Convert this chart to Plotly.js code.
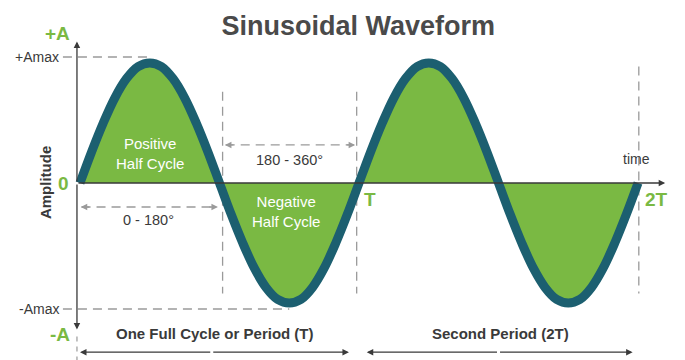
<!DOCTYPE html>
<html>
<head>
<meta charset="utf-8">
<script src="https://cdn.plot.ly/plotly-3.0.1.min.js"></script>
<style>html,body{margin:0;padding:0;background:#fff;}#chart{width:685px;height:360px;}</style>
</head>
<body>
<div id="chart"></div>
<script>
// Phase angle (degrees) and normalised amplitude
const degrees = [0,15,30,45,60,75,90,105,120,135,150,165,180,195,210,225,240,255,270,285,300,315,330,345,360,
                 375,390,405,420,435,450,465,480,495,510,525,540,555,570,585,600,615,630,645,660,675,690,705,720];
const amplitude = [0,0.26,0.5,0.71,0.87,0.97,1,0.97,0.87,0.71,0.5,0.26,0,-0.26,-0.5,-0.71,-0.87,-0.97,-1,-0.97,-0.87,-0.71,-0.5,-0.26,0,
                   0.26,0.5,0.71,0.87,0.97,1,0.97,0.87,0.71,0.5,0.26,0,-0.26,-0.5,-0.71,-0.87,-0.97,-1,-0.97,-0.87,-0.71,-0.5,-0.26,0];
const halfCycleLabels = ["Positive<br>Half Cycle", "Negative<br>Half Cycle"];
const rangeLabels = ["0 - 180°", "180 - 360°"];
const periodLabels = ["One Full Cycle or Period (T)", "Second Period (2T)"];
const periodMarks = ["T", "2T"];
const ampLabels = ["+Amax", "-Amax"];
const axisEnds = ["+A", "-A"];

const GREEN = "#7ab943", TEAL = "#1c5f70", DARK = "#3a3a3a", GREY = "#9a9a9a";
const FONT = "Liberation Sans, Arial, sans-serif";

const trace = {
  x: degrees, y: amplitude, type: "scatter", mode: "lines",
  line: {color: TEAL, width: 9, shape: "spline", smoothing: 1},
  fill: "tozeroy", fillcolor: GREEN, hoverinfo: "skip"
};

const dash = "9px,6px";
const shapes = [
  {type:"line", x0:-22, x1:90, y0:1.05, y1:1.05, line:{color:GREY, width:1.3, dash:dash}, layer:"below"},
  {type:"line", x0:-22, x1:270, y0:-1.05, y1:-1.05, line:{color:GREY, width:1.3, dash:dash}, layer:"below"},
  {type:"line", x0:184, x1:184, y0:0.76, y1:-0.92, line:{color:GREY, width:1.3, dash:dash}, layer:"below"},
  {type:"line", x0:357, x1:357, y0:0.76, y1:-0.92, line:{color:GREY, width:1.3, dash:dash}, layer:"below"},
  {type:"line", x0:721, x1:721, y0:0.97, y1:-0.92, line:{color:GREY, width:1.3, dash:dash}, layer:"below"},
  {type:"line", x0:2, x1:176, y0:-0.2, y1:-0.2, line:{color:GREY, width:1.3, dash:dash}, layer:"below"},
  {type:"line", x0:188, x1:353, y0:0.317, y1:0.317, line:{color:GREY, width:1.3, dash:dash}, layer:"below"},
  {type:"line", x0:-3.9, x1:-3.9, y0:-1.28, y1:-1.5, line:{color:GREY, width:1.2, dash:"5px,5px"}, layer:"below"}
];

function arrow(x, y, ax, ay, color, ref) {
  const a = {x:x, y:y, ax:ax, ay:ay, text:"", showarrow:true, arrowhead:2, arrowsize:1,
             arrowwidth:1.3, arrowcolor:color, standoff:0, startstandoff:0};
  if (ref) { a.axref = "x"; a.ayref = "y"; }
  return a;
}
function label(x, y, text, size, color, bold, extra) {
  return Object.assign({x:x, y:y, text: bold ? "<b>"+text+"</b>" : text, showarrow:false,
    font:{family:FONT, size:size, color:color}}, extra || {});
}

const annotations = [
  arrow(-3.9, 1.18, -3.9, 0, DARK, true),
  arrow(-3.9, -1.22, -3.9, 0, DARK, true),
  arrow(755, 0, -3.9, 0, DARK, true),
  arrow(1, -0.2, 10, 0, GREY), arrow(178, -0.2, -10, 0, GREY),
  arrow(187, 0.317, 10, 0, GREY), arrow(355, 0.317, -10, 0, GREY),
  arrow(0, -1.41, 170, -1.41, DARK, true), arrow(347, -1.41, 170, -1.41, DARK, true),
  arrow(370, -1.41, 540, -1.41, DARK, true), arrow(713, -1.41, 540, -1.41, DARK, true),
  label(-29.5, 1.25, axisEnds[0], 19, GREEN, true),
  label(-26, -1.26, axisEnds[1], 19, GREEN, true),
  label(-21, 0, "0", 19, GREEN, true),
  label(374, -0.14, periodMarks[0], 19, GREEN, true),
  label(744, -0.14, periodMarks[1], 19, GREEN, true),
  label(-25, 1.05, ampLabels[0], 14, DARK, false, {xanchor:"right"}),
  label(-25, -1.05, ampLabels[1], 14, DARK, false, {xanchor:"right"}),
  label(-45, 0, "Amplitude", 15, DARK, true, {textangle:-90}),
  label(718, 0.2, "time", 14, DARK, false),
  label(90, 0.25, halfCycleLabels[0], 15, "#ffffff", false),
  label(266, -0.235, halfCycleLabels[1], 15, "#ffffff", false),
  label(88, -0.31, rangeLabels[0], 14.5, DARK, false),
  label(270, 0.19, rangeLabels[1], 14.5, DARK, false),
  label(174, -1.25, periodLabels[0], 15, DARK, true),
  label(542, -1.25, periodLabels[1], 15, DARK, true)
];

const layout = {
  width: 685, height: 360,
  margin: {l:0, r:0, t:0, b:0},
  paper_bgcolor: "#ffffff", plot_bgcolor: "#ffffff",
  showlegend: false,
  title: {text: "<b>Sinusoidal Waveform</b>", x: 0.523, xanchor: "center", y: 0.93, yanchor: "middle",
          font: {family: FONT, size: 27, color: "#4a4a4a"}},
  xaxis: {range: [-103.2, 780.6], visible: false, fixedrange: true},
  yaxis: {range: [-1.475, 1.525], visible: false, fixedrange: true},
  shapes: shapes,
  annotations: annotations
};

Plotly.newPlot("chart", [trace], layout, {displayModeBar: false, staticPlot: true});
</script>
</body>
</html>
